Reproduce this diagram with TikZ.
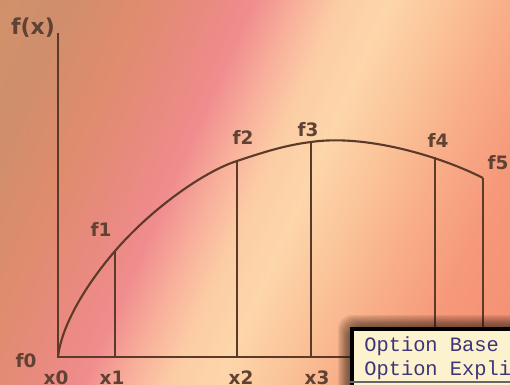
\documentclass[tikz,border=0pt]{standalone}
\usepackage{fontspec}
\setmainfont{DejaVu Sans}
\newfontfamily\codefont{Liberation Mono}
\usetikzlibrary{positioning}

\definecolor{axisbrown}{RGB}{92,58,42}
\definecolor{labelbrown}{RGB}{95,66,52}
\definecolor{codeblue}{RGB}{62,52,122}
\definecolor{codebg}{RGB}{252,242,205}
\pgfdeclarehorizontalshading{bgshade}{12cm}{rgb(0cm)=(0.816,0.573,0.416); rgb(1.4cm)=(0.816,0.557,0.424); rgb(2.6cm)=(0.871,0.549,0.424); rgb(3.8cm)=(0.91,0.541,0.49); rgb(4.8cm)=(0.941,0.549,0.557); rgb(5.6cm)=(0.973,0.686,0.608); rgb(6.4cm)=(0.988,0.804,0.647); rgb(7.3cm)=(0.992,0.839,0.667); rgb(8.4cm)=(0.984,0.765,0.596); rgb(9.6cm)=(0.973,0.675,0.529); rgb(10.8cm)=(0.965,0.596,0.478); rgb(12.8cm)=(0.957,0.557,0.447)}

\begin{document}
\begin{tikzpicture}[
    x=0.02cm, y=-0.02cm,
    font=\bfseries\fontsize{10.5}{12}\selectfont,
    lbl/.style={text=labelbrown, inner sep=0pt},
    axis/.style={draw=axisbrown, line width=1.2pt},
    curve/.style={draw=axisbrown, line width=1.2pt, line join=round},
    ord/.style={draw=axisbrown, line width=1.1pt},
    codebox/.style={draw=black, line width=2.4pt, fill=codebg, anchor=north west, minimum width=4cm, minimum height=2cm, inner sep=0pt},
    codetext/.style={text=codeblue, font=\codefont\fontsize{11.6}{13}\selectfont, inner sep=0pt, anchor=west}
]
\useasboundingbox (0,0) rectangle (510,385);
\clip (0,0) rectangle (510,385);
\node[inner sep=0pt, rotate=-24] (bg) at (255,192.5) {\pgfuseshading{bgshade}};

\coordinate (o) at (58,357);
\coordinate (ytop) at (58,33);
\coordinate (b1) at (115,357);
\coordinate (b2) at (237,357);
\coordinate (b3) at (311,357);
\coordinate (b4) at (435,357);
\coordinate (b5) at (483,357);
\coordinate (p1) at (115,251);
\coordinate (p2) at (237,161);
\coordinate (p3) at (311,142);
\coordinate (p4) at (435,157);
\coordinate (p5) at (483,178);

\draw[axis] (ytop) -- (o) -- (b5);
\draw[curve] (o) .. controls (62,322) and (90,280) .. (p1)
  .. controls (152,208) and (205,171) .. (p2)
  .. controls (263,152.3) and (286,145) .. (p3)
  .. controls (365,134) and (440,156) .. (p5);
\draw[ord] (b1) -- (p1);
\draw[ord] (b2) -- (p2);
\draw[ord] (b3) -- (p3);
\draw[ord] (b4) -- (p4);
\draw[ord] (b5) -- (p5);

\node[lbl, font=\bfseries\fontsize{12.5}{14}\selectfont] (fx) at (33,28) {f(x)};
\node[lbl] (f0) at (26,361) {f0};
\node[lbl] (f1) at (101,229) {f1};
\node[lbl] (f2) at (243,137) {f2};
\node[lbl] (f3) at (308,130) {f3};
\node[lbl] (f4) at (438,140) {f4};
\node[lbl] (f5) at (498,163) {f5};
\node[lbl] (x0) at (56,378) {x0};
\node[lbl] (x1) at (112,378) {x1};
\node[lbl] (x2) at (241,378) {x2};
\node[lbl] (x3) at (317,378) {x3};

\foreach \i in {1,...,10}
  \fill[black!80!brown, opacity=0.08, rounded corners=8pt] (350-1.2*\i,327-1.2*\i) rectangle (560,420);
\node[codebox] (code) at (350,327) {};
\node[codetext] (opt1) at (364,346) {Option Base};
\node[codetext] (opt2) at (364,370) {Option Expli};
\draw[black!60, line width=0.6pt] (code.west |- 0,382) -- (code.east |- 0,382);
\end{tikzpicture}
\end{document}
